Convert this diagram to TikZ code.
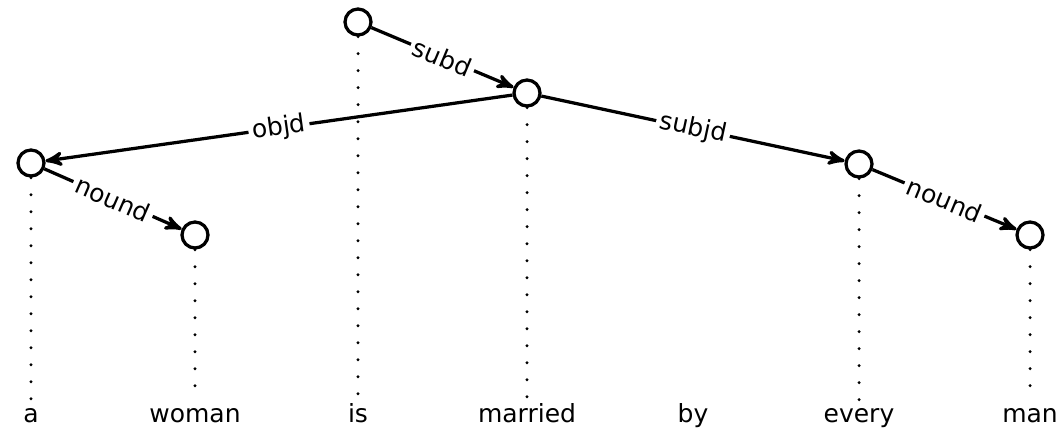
\documentclass[tikz,border=0pt]{standalone}
\usepackage{fontspec}
\setmainfont{DejaVu Sans}
\usetikzlibrary{arrows}
\usetikzlibrary{positioning}

\begin{document}
\begin{tikzpicture}[x=0.4pt, y=-0.4pt,
    tok/.style={circle, draw, line width=1.3pt, minimum size=10.4pt, inner sep=0pt},
    word/.style={anchor=base, inner sep=1pt, text height=7.5pt, text depth=2pt},
    dep/.style={->, >=stealth', line width=1.3pt},
    lbl/.style={fill=white, sloped, midway, inner sep=1.5pt},
    dots/.style={line width=1.3pt, line cap=round, dash pattern=on 0pt off 6.8pt}]
  \useasboundingbox (0,0) rectangle (1059,427);

  % tokens
  \node[tok] (ta) at (31,163) {};
  \node[tok] (twoman) at (195,235) {};
  \node[tok] (tis) at (358,22) {};
  \node[tok] (tmarried) at (527,93) {};
  \node[tok] (tevery) at (859,164) {};
  \node[tok] (tman) at (1030,235) {};

  % words
  \node[word] (wa) at (31,422) {a};
  \node[word] (wwoman) at (195,422) {woman};
  \node[word] (wis) at (358,422) {is};
  \node[word] (wmarried) at (527,422) {married};
  \node[word] (wby) at (693,422) {by};
  \node[word] (wevery) at (859,422) {every};
  \node[word] (wman) at (1030,422) {man};

  \foreach \w in {a,woman,is,married,every,man}
    \draw[dots] (t\w.south) -- (w\w.north);

  % dependencies
  \draw[dep] (tis) -- (tmarried) node[lbl] {subd};
  \draw[dep] (tmarried) -- (ta) node[lbl] {objd};
  \draw[dep] (tmarried) -- (tevery) node[lbl] {subjd};
  \draw[dep] (ta) -- (twoman) node[lbl] {nound};
  \draw[dep] (tevery) -- (tman) node[lbl] {nound};
\end{tikzpicture}
\end{document}
